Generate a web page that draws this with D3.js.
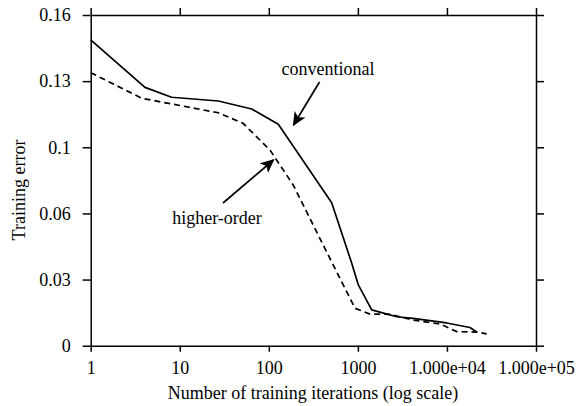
<!DOCTYPE html>
<html><head><meta charset="utf-8">
<script src="https://cdn.jsdelivr.net/npm/d3@7/dist/d3.min.js"></script>
<style>body{margin:0;background:#fff}svg{display:block}text{font-family:"Liberation Serif","DejaVu Serif",serif;fill:#000}</style>
</head><body><svg id="c" width="579" height="406"></svg>
<script>
// data
const xTicks = [1, 10, 100, 1000, 10000, 100000];
const xTickLabels = ["1", "10", "100", "1000", "1.000e+04", "1.000e+05"];
const yTicks = [0, 0.032, 0.064, 0.096, 0.128, 0.16];
const yTickLabels = ["0", "0.03", "0.06", "0.1", "0.13", "0.16"];
const convIter = [1, 2.32, 4.07, 8.1, 27.1, 64.3, 127.8, 508, 853, 1012, 1430, 2730, 4160, 9900, 18150, 21600];
const convErr  = [0.148, 0.1342, 0.125, 0.1202, 0.1184, 0.1145, 0.1071, 0.0692, 0.0399, 0.0294, 0.0173, 0.014, 0.0132, 0.011, 0.0088, 0.0066];
const hoIter = [1, 3.74, 27.1, 51.3, 103, 188, 417, 929, 1368, 2295, 4160, 8360, 12890, 21600, 27950];
const hoErr  = [0.1321, 0.1197, 0.1127, 0.1076, 0.0947, 0.0777, 0.0479, 0.0181, 0.0153, 0.0152, 0.0124, 0.0105, 0.0068, 0.0066, 0.0057];

const svg = d3.select("#c");
const L = 90.7, R = 536, T = 15, B = 345.7;
const x = d3.scaleLog().domain([1, 100000]).range([L, R]);
const y = d3.scaleLinear().domain([0, 0.16]).range([B, T]);

const defs = svg.append("defs");
defs.append("marker").attr("id","ah").attr("viewBox","0 0 10 10").attr("refX",9).attr("refY",5)
  .attr("markerWidth",14).attr("markerHeight",14).attr("markerUnits","userSpaceOnUse").attr("orient","auto")
  .append("path").attr("d","M0,0.5 L10,5 L0,9.5 L2.5,5 Z").attr("fill","#000");

const fs = "18px";
// axes
const fmtX = (d) => xTickLabels[xTicks.indexOf(d)];
const fmtY = (d) => yTickLabels[yTicks.indexOf(d)];
const ax = (g) => { g.select(".domain").attr("stroke","#000").attr("stroke-width",1.5);
  g.selectAll(".tick line").attr("stroke","#000").attr("stroke-width",1.5);
  g.selectAll("text").style("font-size",fs).attr("fill","#000"); };
svg.append("g").attr("transform",`translate(0,${B})`)
  .call(d3.axisBottom(x).tickValues(xTicks).tickFormat(fmtX).tickSize(6).tickSizeOuter(0).tickPadding(10)).call(ax);
svg.append("g").attr("transform",`translate(0,${T})`)
  .call(d3.axisTop(x).tickValues(xTicks).tickFormat("").tickSize(7).tickSizeOuter(0)).call(ax);
svg.append("g").attr("transform",`translate(${L},0)`)
  .call(d3.axisLeft(y).tickValues(yTicks).tickFormat(fmtY).tickSize(8).tickSizeOuter(0).tickPadding(12)).call(ax);
svg.append("g").attr("transform",`translate(${R},0)`)
  .call(d3.axisRight(y).tickValues(yTicks).tickFormat("").tickSize(8).tickSizeOuter(0)).call(ax);

// lines
const line = d3.line().x(d => x(d[0])).y(d => y(d[1]));
svg.append("path").datum(convIter.map((v,i)=>[v,convErr[i]])).attr("d",line)
  .attr("fill","none").attr("stroke","#000").attr("stroke-width",1.7).attr("stroke-linejoin","round");
svg.append("path").datum(hoIter.map((v,i)=>[v,hoErr[i]])).attr("d",line)
  .attr("fill","none").attr("stroke","#000").attr("stroke-width",1.7).attr("stroke-dasharray","6,4");

// annotations
svg.append("text").attr("x",328).attr("y",75).attr("text-anchor","middle").style("font-size",fs).text("conventional");
svg.append("line").attr("x1",319.5).attr("y1",82).attr("x2",293.5).attr("y2",125)
  .attr("stroke","#000").attr("stroke-width",1.7).attr("marker-end","url(#ah)");
svg.append("text").attr("x",217).attr("y",224).attr("text-anchor","middle").style("font-size",fs).text("higher-order");
svg.append("line").attr("x1",223).attr("y1",203).attr("x2",273.5).attr("y2",160)
  .attr("stroke","#000").attr("stroke-width",1.7).attr("marker-end","url(#ah)");

// axis titles
svg.append("text").attr("x",313).attr("y",399).attr("text-anchor","middle").style("font-size",fs)
  .text("Number of training iterations (log scale)");
svg.append("text").attr("transform","translate(25,190) rotate(-90)").attr("text-anchor","middle").style("font-size",fs)
  .text("Training error");
</script></body></html>
